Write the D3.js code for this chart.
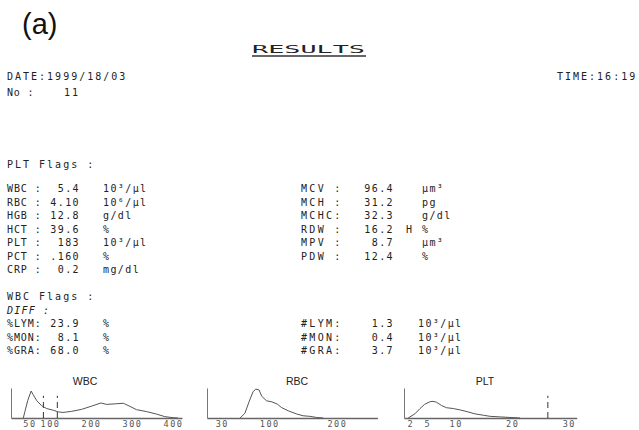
<!DOCTYPE html>
<html><head><meta charset="utf-8">
<script src="https://cdn.jsdelivr.net/npm/d3@7"></script>
<style>
html,body{margin:0;padding:0;background:#fff;}
svg{display:block;}
.dm{font-family:"DejaVu Sans Mono",monospace;font-size:10px;letter-spacing:2px;fill:#222;}
</style></head><body>
<svg id="c" width="639" height="430"></svg>
<script>
// ---------- data ----------
const leftLabels = ["WBC :","RBC :","HGB :","HCT :","PLT :","PCT :","CRP :"];
const leftValues = ["5.4","4.10","12.8","39.6","183",".160","0.2"];
const leftUnits  = ["10³/μl","10⁶/μl","g/dl","%","10³/μl","%","mg/dl"];
const rightLabels = ["MCV :","MCH :","MCHC:","RDW :","MPV :","PDW :"];
const rightValues = ["96.4","31.2","32.3","16.2","8.7","12.4"];
const rightFlags  = ["","","","H","",""];
const rightUnits  = ["μm³","pg","g/dl","%","μm³","%"];
const diffLabels = ["%LYM:","%MON:","%GRA:"];
const diffValues = ["23.9","8.1","68.0"];
const diffUnits  = ["%","%","%"];
const absLabels = ["#LYM:","#MON:","#GRA:"];
const absValues = ["1.3","0.4","3.7"];
const absUnits  = ["10³/μl","10³/μl","10³/μl"];

// histograms (x in instrument units, y relative counts)
const wbcX = [35,39,46,54,59,68,80,92,108,120,132,153,177,202,224,238,259,279,295,311,336,360,380,401,412];
const wbcY = [0,24,64,97,84,62,44,34,28,22,20,24,31,43,54,49,51,53,42,30,23,14,5,1,0];
const wbcTicks = [50,100,200,300,400];
const wbcDashes = [84,118];

const rbcX = [57,64,70,76,80,85,89,96,104,112,118,128,140,150,160,170,180];
const rbcY = [0,17,57,94,104,101,78,62,58,50,38,26,15,8,6,2,0];
const rbcTicks = [30,100,200];

const pltX = [1.6,2.8,3.7,4.5,5.5,6.0,6.6,7.5,8.4,9.6,10.8,12.0,13.4,14.9,16.1,17.8,19.6,21.4];
const pltY = [0,15,34,49,59,60,57,45,37,34,29,23,15,10,6,4,2,0];
const pltTicks = [2,5,10,20,30];
const pltDashes = [26.3];

// ---------- drawing ----------
const svg = d3.select("#c");

svg.append("text").attr("x",22).attr("y",34)
  .style("font-family","'Liberation Sans',Arial,sans-serif").style("font-size","29px").style("fill","#111")
  .text("(a)");

svg.append("text").attr("x",252).attr("y",53).attr("class","dm")
  .attr("textLength",113).attr("lengthAdjust","spacingAndGlyphs").style("letter-spacing","0px")
  .text("RESULTS");
svg.append("line").attr("x1",252).attr("x2",366).attr("y1",56).attr("y2",56)
  .attr("stroke","#333").attr("stroke-width",1.5);

svg.append("text").attr("class","dm").attr("x",7).attr("y",80).text("DATE:1999/18/03");
svg.append("text").attr("class","dm").attr("x",557).attr("y",80).text("TIME:16:19");
svg.append("text").attr("class","dm").attr("x",7).attr("y",96).style("letter-spacing","0.8px").text("No :");
svg.append("text").attr("class","dm").attr("x",80).attr("y",96).attr("text-anchor","end").text("11");

svg.append("text").attr("class","dm").attr("x",7).attr("y",168).text("PLT Flags :");

const rowY = i => 192 + i*13.5;

function rows(labels, values, units, y0, xl, xv, xu, flags, xf, ls) {
  labels.forEach((l,i) => {
    const yy = y0 + i*13.5;
    svg.append("text").attr("class","dm").attr("x",xl).attr("y",yy).style("letter-spacing",ls+"px").text(l);
    svg.append("text").attr("class","dm").attr("x",xv).attr("y",yy).attr("text-anchor","end")
      .style("letter-spacing","1.4px").text(values[i]);
    svg.append("text").attr("class","dm").attr("x",xu).attr("y",yy).style("letter-spacing","1.4px").text(units[i]);
    if (flags && flags[i]) svg.append("text").attr("class","dm").attr("x",xf).attr("y",yy).text(flags[i]);
  });
}
rows(leftLabels, leftValues, leftUnits, rowY(0), 7, 80, 103, null, 0, 0.9);
rows(rightLabels, rightValues, rightUnits, rowY(0), 301, 394, 422, rightFlags, 406, 2.3);

svg.append("text").attr("class","dm").attr("x",7).attr("y",rowY(8)).text("WBC Flags :");
svg.append("text").attr("class","dm").attr("x",7).attr("y",rowY(9)).style("font-style","italic")
  .style("letter-spacing","1.2px").text("DIFF :");
rows(diffLabels, diffValues, diffUnits, rowY(10), 7, 80, 103, null, 0, 0.9);
rows(absLabels, absValues, absUnits, rowY(10), 301, 394, 418, null, 0, 2.3);

const y = d3.scaleLinear().domain([0,108]).range([418,388]);

function hist(title, titleX, dom, rng, ticks, xs, ys, dashes) {
  const x = d3.scaleLinear().domain(dom).range(rng);
  const g = svg.append("g");
  g.append("text").attr("x",titleX).attr("y",385).attr("text-anchor","middle")
    .style("font-family","'Liberation Sans',Arial,sans-serif").style("font-size","10.5px").style("fill","#222")
    .text(title);
  const ax = g.append("g").attr("transform",`translate(0,${y(0)})`)
    .call(d3.axisBottom(x).tickValues(ticks).tickSize(0).tickSizeOuter(0).tickPadding(3).tickFormat(d3.format("d")));
  ax.select(".domain").attr("stroke","#666").attr("stroke-width",1.6);
  ax.selectAll("text").style("font-family","'DejaVu Sans Mono',monospace").style("font-size","8.5px")
    .style("letter-spacing","1.5px").style("fill","#555");
  const ay = g.append("g").attr("transform",`translate(${rng[0]},0)`)
    .call(d3.axisLeft(y).tickValues([]).tickSizeOuter(0));
  ay.select(".domain").attr("stroke","#777").attr("stroke-width",1);
  (dashes||[]).forEach(d => {
    g.append("line").attr("x1",x(d)).attr("x2",x(d)).attr("y1",y(0)).attr("y2",y(80))
      .attr("stroke","#333").attr("stroke-width",1).attr("stroke-dasharray","6,4");
  });
  const pts = xs.map((v,i)=>[v, ys[i]]);
  g.append("path").datum(pts)
    .attr("d", d3.line().x(d=>x(d[0])).y(d=>y(d[1])).curve(d3.curveLinear))
    .attr("fill","none").attr("stroke","#555").attr("stroke-width",1);
}

hist("WBC", 85, [5,422], [11,182], wbcTicks, wbcX, wbcY, wbcDashes);
hist("RBC", 297, [8,260], [207,377.4], rbcTicks, rbcX, rbcY, []);
hist("PLT", 485, [0.87,31.4], [404,576.7], pltTicks, pltX, pltY, pltDashes);
</script>
</body></html>
